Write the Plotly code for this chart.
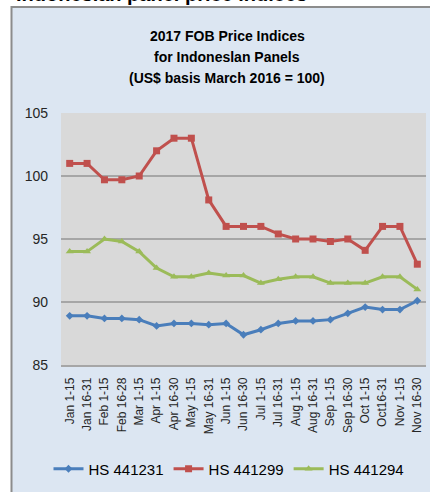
import plotly.graph_objects as go

periods = ["Jan 1-15", "Jan 16-31", "Feb 1-15", "Feb 16-28", "Mar 1-15", "Apr 1-15",
           "Apr 16-30", "May 1-15", "May 16-31", "Jun 1-15", "Jun 16-30", "Jul 1-15",
           "Jul 16-31", "Aug 1-15", "Aug 16-31", "Sep 1-15", "Sep 16-30", "Oct 1-15",
           "Oct16-31", "Nov 1-15", "Nov 16-30"]
hs441231 = [88.9, 88.9, 88.7, 88.7, 88.6, 88.1, 88.3, 88.3, 88.2, 88.3, 87.4, 87.8,
            88.3, 88.5, 88.5, 88.6, 89.1, 89.6, 89.4, 89.4, 90.1]
hs441299 = [101, 101, 99.7, 99.7, 100, 102, 103, 103, 98.1, 96, 96, 96,
            95.4, 95, 95, 94.8, 95, 94.1, 96, 96, 93]
hs441294 = [94.0, 94.0, 95.0, 94.8, 94.0, 92.7, 92.0, 92.0, 92.3, 92.1, 92.1, 91.5,
            91.8, 92.0, 92.0, 91.5, 91.5, 91.5, 92.0, 92.0, 91.0]
series_names = ["HS 441231", "HS 441299", "HS 441294"]
title_lines = ["2017 FOB Price Indices", "for Indoneslan Panels", "(US$ basis March 2016 = 100)"]
page_heading = "Indonesian panel price indices"

W, H = 430, 492
L, R, T, B = 61, 4, 113, 127
PW, PH = W - L - R, H - T - B

def px(x):
    return (x - L) / PW

def py(y):
    return (H - B - y) / PH

fig = go.Figure()
fig.add_trace(go.Scatter(x=periods, y=hs441231, name=series_names[0], mode="lines+markers",
                         line=dict(color="#4A7EBB", width=3),
                         marker=dict(symbol="diamond", size=6, color="#4A7EBB")))
fig.add_trace(go.Scatter(x=periods, y=hs441299, name=series_names[1], mode="lines+markers",
                         line=dict(color="#C0504D", width=3),
                         marker=dict(symbol="square", size=7, color="#C0504D")))
fig.add_trace(go.Scatter(x=periods, y=hs441294, name=series_names[2], mode="lines+markers",
                         line=dict(color="#9BBB59", width=3),
                         marker=dict(symbol="triangle-up", size=7, color="#9BBB59")))

shapes = [
    dict(type="rect", xref="paper", yref="paper", x0=px(-5), x1=px(11), y0=py(H + 5), y1=py(-5),
         fillcolor="white", line=dict(width=0), layer="above"),
    dict(type="rect", xref="paper", yref="paper", x0=px(-5), x1=px(W + 5), y0=py(6), y1=py(-5),
         fillcolor="white", line=dict(width=0), layer="above"),
    dict(type="line", xref="paper", yref="paper", x0=px(11.5), x1=px(11.5), y0=py(6), y1=py(H + 5),
         line=dict(color="#8C8C8C", width=2), layer="above"),
    dict(type="line", xref="paper", yref="paper", x0=px(11), x1=px(W + 5), y0=py(7), y1=py(7),
         line=dict(color="#8C8C8C", width=2), layer="above"),
]

annotations = [
    dict(text="<b>" + page_heading + "</b>", xref="paper", yref="paper",
         x=px(14), y=py(7), xanchor="left", yanchor="bottom", showarrow=False,
         font=dict(family="Liberation Sans", size=20, color="black")),
]
for line_text, ypix in zip(title_lines, [36, 57, 78]):
    annotations.append(dict(text="<b>" + line_text + "</b>", xref="paper", yref="paper",
                            x=px(227), y=py(ypix), xanchor="center", yanchor="middle",
                            showarrow=False,
                            font=dict(family="Liberation Sans", size=14, color="black")))

fig.update_layout(
    width=W, height=H,
    margin=dict(l=L, r=R, t=T, b=B, pad=0),
    paper_bgcolor="#DCE6F2",
    plot_bgcolor="#D9D9D9",
    shapes=shapes,
    annotations=annotations,
    showlegend=True,
    legend=dict(orientation="h", x=px(229), y=py(469), xanchor="center", yanchor="middle",
                font=dict(family="Liberation Sans", size=15, color="black"),
                bgcolor="rgba(0,0,0,0)", itemwidth=30, tracegroupgap=0),
    font=dict(family="Liberation Sans", color="#333333"),
)
fig.update_xaxes(type="category", tickangle=-90, showgrid=False,
                 showline=True, linecolor="#A6A6A6", linewidth=1.5,
                 tickfont=dict(family="Liberation Sans", size=12, color="#262626"),
                 ticks="", ticklabelstandoff=6, range=[-0.5, len(periods) - 0.5])
fig.update_yaxes(range=[85, 105], dtick=5, tick0=85, showgrid=True, gridcolor="#A6A6A6",
                 gridwidth=1.5, zeroline=False, showline=False, ticks="",
                 tickfont=dict(family="Liberation Sans", size=14, color="#262626"),
                 ticklabelstandoff=12)

fig.write_html("out.html", config={"displayModeBar": False},
               post_script="document.body.style.margin='0';document.body.style.overflow='hidden';")
